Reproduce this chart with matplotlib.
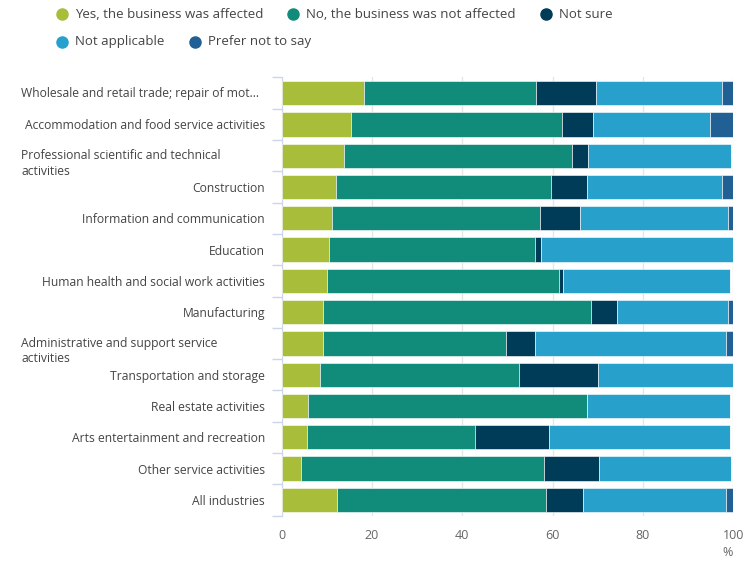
import matplotlib.pyplot as plt
import matplotlib.transforms as mtransforms
from matplotlib.lines import Line2D
import numpy as np

plt.rcParams['font.family'] = ['Open Sans', 'DejaVu Sans']

categories = [
    "Wholesale and retail trade; repair of mot...",
    "Accommodation and food service activities",
    "Professional scientific and technical\nactivities",
    "Construction",
    "Information and communication",
    "Education",
    "Human health and social work activities",
    "Manufacturing",
    "Administrative and support service\nactivities",
    "Transportation and storage",
    "Real estate activities",
    "Arts entertainment and recreation",
    "Other service activities",
    "All industries",
]

yes_affected = [18.2, 15.3, 13.7, 12.1, 11.1, 10.4, 10.1, 9.1, 9.1, 8.4, 5.9, 5.7, 4.2, 12.3]
not_affected = [38.1, 46.8, 50.5, 47.6, 46.0, 45.7, 51.2, 59.4, 40.6, 44.1, 61.6, 37.1, 53.9, 46.2]
not_sure = [13.2, 6.8, 3.6, 7.8, 9.0, 1.4, 1.1, 5.7, 6.5, 17.5, 0.0, 16.4, 12.1, 8.2]
not_applicable = [28.1, 26.0, 31.8, 30.1, 32.7, 42.5, 36.9, 24.6, 42.2, 30.0, 31.8, 40.1, 29.4, 31.7]
prefer_not = [2.4, 5.1, 0.0, 2.4, 1.2, 0.0, 0.0, 1.2, 1.6, 0.0, 0.0, 0.0, 0.0, 1.6]

series_names = ["Yes, the business was affected", "No, the business was not affected",
                "Not sure", "Not applicable", "Prefer not to say"]
series = [yes_affected, not_affected, not_sure, not_applicable, prefer_not]
colors = ["#a8bd3a", "#118c7b", "#003c57", "#27a0cc", "#206095"]

W, H = 752, 573
fig = plt.figure(figsize=(W / 100, H / 100), dpi=100)
ax = fig.add_axes([281.7 / W, 1 - 515.5 / H, (733.3 - 281.7) / W, (515.5 - 77.5) / H])

y = np.arange(len(categories))
left = np.zeros(len(categories))
for name, vals, c in zip(series_names, series, colors):
    vals = np.array(vals)
    ax.barh(y, vals, left=left, height=0.78, color=c, edgecolor="white", linewidth=0.4,
            label=name, zorder=3)
    left += vals

ax.set_xlim(0, 100)
ax.set_ylim(len(categories) - 0.5, -0.5)
ax.set_xticks([0, 20, 40, 60, 80, 100])
ax.grid(axis="x", color="#e6e6e6", linewidth=1, zorder=0)
for s in ["top", "right", "bottom"]:
    ax.spines[s].set_visible(False)
ax.spines["left"].set_color("#ccd6eb")
ax.tick_params(axis="x", length=0, colors="#666666", labelsize=9, pad=10)

# category labels; long (wrapped / truncated) ones drawn left-aligned like the original
long_label = [("\n" in c) or c.endswith("...") for c in categories]
tick_labels = ["" if lg else c for c, lg in zip(categories, long_label)]
ax.set_yticks(y)
ax.set_yticklabels(tick_labels, fontsize=8.7, color="#444444")
ax.tick_params(axis="y", which="major", length=0, pad=12)
ax.set_yticks(np.arange(-0.5, len(categories), 1), minor=True)
ax.tick_params(axis="y", which="minor", length=7.5, color="#ccd6eb", width=1)

trans = mtransforms.blended_transform_factory(fig.transFigure, ax.transData)
for i, (c, lg) in enumerate(zip(categories, long_label)):
    if lg:
        off = 0.25 if "\n" in c else 0.0
        ax.text(21 / W, i + off, c, transform=trans, ha="left", va="center",
                fontsize=8.7, color="#444444", linespacing=1.25)

fig.text(733 / W, 1 - 553 / H, "%", ha="right", va="center", fontsize=9, color="#666666")

# legend, flowing layout
legend_pos = [(61.7, 14), (292.7, 14), (546, 14), (61.7, 41.7), (195, 41.7)]
for (px, py), name, c in zip(legend_pos, series_names, colors):
    fig.add_artist(Line2D([px / W], [1 - py / H], marker="o", markersize=8,
                          color=c, linestyle="none", transform=fig.transFigure))
    fig.text((px + 13) / W, 1 - py / H, name, ha="left", va="center",
             fontsize=9.5, color="#444444")

fig.savefig("out.png", dpi=100)
